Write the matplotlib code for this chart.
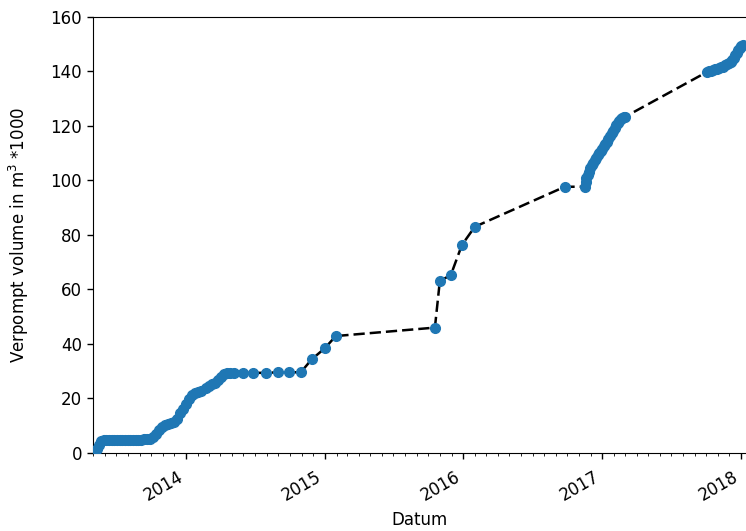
import matplotlib
matplotlib.use("Agg")
import matplotlib.pyplot as plt
import matplotlib.dates as mdates
import pandas as pd

# pumped volume (m3 * 1000)
dates = [
    "2013-05-07", "2013-05-12", "2013-05-17", "2013-05-22", "2013-05-29",
    "2013-06-05", "2013-06-12", "2013-06-19", "2013-06-26", "2013-07-03",
    "2013-07-10", "2013-07-17", "2013-07-24", "2013-07-31", "2013-08-07",
    "2013-08-14", "2013-08-21", "2013-08-28", "2013-09-04", "2013-09-11",
    "2013-09-20", "2013-09-28", "2013-10-06", "2013-10-14", "2013-10-22",
    "2013-10-30", "2013-11-06", "2013-11-14", "2013-11-22", "2013-11-30",
    "2013-12-08", "2013-12-16", "2013-12-24", "2014-01-01", "2014-01-08",
    "2014-01-16", "2014-01-24", "2014-02-01", "2014-02-09",
    "2014-02-22", "2014-03-02", "2014-03-10", "2014-03-18", "2014-03-26",
    "2014-04-03", "2014-04-11", "2014-04-19", "2014-04-27", "2014-05-08",
    "2014-05-31", "2014-06-26", "2014-07-30", "2014-08-31", "2014-09-28",
    "2014-10-30", "2014-11-28", "2015-01-01", "2015-01-30",
    "2015-10-18", "2015-10-31", "2015-11-29", "2015-12-28", "2016-01-31",
    "2016-09-24", "2016-11-16",
    "2016-11-18", "2016-11-20", "2016-11-23", "2016-11-26", "2016-11-30",
    "2016-12-04", "2016-12-08", "2016-12-12", "2016-12-16", "2016-12-20",
    "2016-12-24", "2016-12-28", "2017-01-01", "2017-01-05", "2017-01-09",
    "2017-01-13", "2017-01-17", "2017-01-21", "2017-01-25", "2017-01-29",
    "2017-02-02", "2017-02-06", "2017-02-10", "2017-02-14", "2017-02-18",
    "2017-02-22", "2017-02-26", "2017-03-02",
    "2017-10-03", "2017-10-09", "2017-10-14", "2017-10-19", "2017-10-24",
    "2017-10-29", "2017-11-04", "2017-11-09", "2017-11-14", "2017-11-20",
    "2017-11-25", "2017-11-30", "2017-12-05", "2017-12-09", "2017-12-13",
    "2017-12-17", "2017-12-20", "2017-12-24", "2017-12-28", "2018-01-01",
    "2018-01-05",
]
volume = [
    0.0, 1.5, 3.0, 4.2, 4.6,
    4.7, 4.7, 4.7, 4.7, 4.8,
    4.8, 4.8, 4.8, 4.8, 4.8,
    4.8, 4.8, 4.9, 4.9, 5.0,
    5.0, 5.3, 5.8, 7.0, 8.6,
    9.6, 10.3, 10.8, 11.1, 11.4,
    12.5, 14.5, 16.3, 18.0, 19.8,
    21.2, 22.0, 22.4, 22.6,
    24.0, 24.6, 25.2, 25.8, 26.8,
    28.0, 28.8, 29.2, 29.4, 29.4,
    29.4, 29.4, 29.4, 29.6, 29.6,
    29.6, 34.4, 38.4, 42.9,
    46.0, 63.1, 65.3, 76.3, 83.0,
    97.7, 97.7,
    99.5, 100.8, 102.0, 103.2, 104.5,
    105.5, 106.5, 107.5, 108.3, 109.2,
    110.0, 110.8, 111.6, 112.5, 113.3,
    114.3, 115.3, 116.3, 117.3, 118.3,
    119.3, 120.2, 121.0, 121.8, 122.4,
    122.9, 123.2, 123.4,
    139.8, 140.0, 140.3, 140.6, 140.8,
    141.0, 141.2, 141.5, 141.8, 142.2,
    142.6, 143.1, 143.6, 144.2, 145.0,
    145.9, 146.8, 147.8, 148.6, 149.2,
    149.7,
]

x = pd.to_datetime(dates)

plt.rcParams["font.size"] = 12

fig = plt.figure(figsize=(7.46, 5.31), dpi=100)
ax = fig.add_axes([0.1247, 0.147, 0.8753, 0.821])

ax.plot(x, volume, "k--", linewidth=1.8, dashes=(4.5, 2), zorder=2)
ax.plot(x, volume, "o", color="#1f77b4", markersize=7, zorder=3)

ax.set_xlim(pd.Timestamp("2013-05-01"), pd.Timestamp("2018-01-14"))
ax.set_ylim(0, 160)

ax.xaxis.set_major_locator(mdates.YearLocator())
ax.xaxis.set_major_formatter(mdates.DateFormatter("%Y"))
ax.xaxis.set_minor_locator(mdates.MonthLocator())
ax.tick_params(which="major", length=4.5, width=1)
ax.tick_params(which="minor", length=2.5)
ax.tick_params(axis="x", which="major", pad=6)
for lbl in ax.get_xticklabels():
    lbl.set_rotation(30)
    lbl.set_ha("right")

ax.spines["right"].set_visible(False)
ax.set_xlabel("Datum", labelpad=5)
ax.set_ylabel("Verpompt volume in m$^3$ *1000", labelpad=14)

fig.savefig("out.png", dpi=100)
